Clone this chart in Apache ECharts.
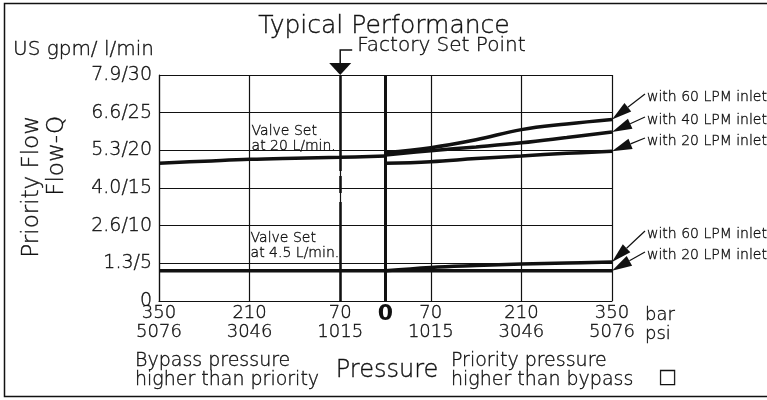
<!DOCTYPE html>
<html>
<head>
<meta charset="utf-8">
<title>Typical Performance</title>
<script src="https://cdn.jsdelivr.net/npm/echarts@6/dist/echarts.min.js"></script>
<style>
html, body { margin: 0; padding: 0; background: #fff; }
#main { width: 767px; height: 400px; }
</style>
</head>
<body>
<div id="main"></div>
<script>
// pressure axis runs 0..700: left half is bypass (350 - bar), right half is priority (350 + bar)
var bypassBar = [350, 280, 210, 140, 70, 0];
var upperBypass = [18.3, 18.55, 18.8, 18.95, 19.07, 19.25];
var lowerBypass = [4.0, 4.0, 4.0, 4.02, 4.03, 4.03];

var priorityBar = [0, 70, 140, 210, 280, 350];
var upper60 = [19.7, 20.35, 21.4, 22.75, 23.5, 24.1];
var upper40 = [19.38, 19.95, 20.45, 21.0, 21.7, 22.43];
var upper20 = [18.28, 18.5, 18.9, 19.25, 19.6, 19.87];
var lower60 = [4.0, 4.45, 4.7, 4.9, 5.05, 5.18];
var lower20 = [4.02, 4.02, 4.02, 4.02, 4.02, 4.02];

var yTickLabels = ['0', '1.3/5', '2.6/10', '4.0/15', '5.3/20', '6.6/25', '7.9/30'];
var barTicks = [350, 210, 70, 70, 210, 350];
var psiTicks = [5076, 3046, 1015, 1015, 3046, 5076];

var setPointBar = 70; // factory set point, bypass side
var inletLabels = ['with 60 LPM inlet', 'with 40 LPM inlet', 'with 20 LPM inlet', 'with 60 LPM inlet', 'with 20 LPM inlet'];

var font = '"DejaVu Sans", sans-serif';
var ink = '#111';
var thin = 0.35; // a touch of outline so the light face reads a bit darker

function side(bars, vals, sign) {
    var out = [];
    for (var i = 0; i < bars.length; i++) {
        out.push([350 + sign * bars[i], vals[i]]);
    }
    return out;
}

function curve(data) {
    return {
        type: 'line',
        data: data,
        smooth: 0.4,
        symbol: 'none',
        silent: true,
        z: 5,
        lineStyle: { color: ink, width: 3.5 }
    };
}

var setX = 350 - setPointBar;

var first = curve(side(bypassBar, upperBypass, -1));
first.markLine = {
    silent: true,
    symbol: 'none',
    label: { show: false },
    data: [
        [{ coord: [setX, 0] }, { coord: [setX, 30], lineStyle: { color: ink, width: 2.5, type: [99, 9, 17, 5, 400] } }],
        [{ coord: [350, 0] }, { coord: [350, 30], lineStyle: { color: ink, width: 3, type: 'solid' } }]
    ]
};

var series = [
    first,
    curve(side(bypassBar, lowerBypass, -1)),
    curve(side(priorityBar, upper60, 1)),
    curve(side(priorityBar, upper40, 1)),
    curve(side(priorityBar, upper20, 1)),
    curve(side(priorityBar, lower60, 1)),
    curve(side(priorityBar, lower20, 1))
];

var chart = echarts.init(document.getElementById('main'));
chart.setOption({
    animation: false,
    backgroundColor: '#fff',
    grid: { left: 159, right: 155, top: 75, bottom: 99 },
    xAxis: {
        type: 'value',
        min: 0,
        max: 700,
        interval: 140,
        axisLine: { show: true, lineStyle: { color: ink, width: 1.2 } },
        axisTick: { show: false },
        splitLine: { show: true, lineStyle: { color: ink, width: 1.2 } },
        axisLabel: {
            margin: 3,
            interval: 0,
            fontFamily: font,
            fontWeight: 200,
            fontSize: 18,
            lineHeight: 19,
            color: ink,
            textBorderColor: ink,
            textBorderWidth: thin,
            formatter: function (v) {
                var i = Math.round(v / 140);
                return barTicks[i] + '\n' + psiTicks[i];
            }
        }
    },
    yAxis: {
        type: 'value',
        min: 0,
        max: 30,
        interval: 5,
        axisLine: { show: true, lineStyle: { color: ink, width: 1.2 } },
        axisTick: { show: false },
        splitLine: { show: true, lineStyle: { color: ink, width: 1.2 } },
        axisLabel: {
            margin: 7,
            fontFamily: font,
            fontWeight: 200,
            fontSize: 19,
            color: ink,
            textBorderColor: ink,
            textBorderWidth: thin,
            formatter: function (v) {
                return yTickLabels[Math.round(v / 5)];
            }
        }
    },
    series: series
});

// annotations placed through the chart's own scales
function px(x, y) {
    return chart.convertToPixel({ xAxisIndex: 0, yAxisIndex: 0 }, [x, y]);
}

function txt(x, y, s, size, extra) {
    var st = { text: s, fill: ink, stroke: ink, lineWidth: thin, font: '200 ' + size + 'px ' + font, align: 'left', verticalAlign: 'middle' };
    for (var k in extra) st[k] = extra[k];
    return { type: 'text', x: x, y: y, style: st, z: 20 };
}

var g = [];
g.push({ type: 'rect', shape: { x: 4.5, y: 3.5, width: 900, height: 393 }, style: { fill: null, stroke: ink, lineWidth: 1.5 }, z: 1 });
g.push(txt(384, 26, 'Typical Performance', 25, { align: 'center' }));
g.push(txt(13, 50, 'US gpm/ l/min', 20));

// factory set point marker
var sp = px(setX, 30);
g.push({ type: 'polygon', shape: { points: [[sp[0] - 11, sp[1] - 12], [sp[0] + 11, sp[1] - 12], [sp[0], sp[1]]] }, style: { fill: ink }, z: 20 });
g.push({ type: 'polyline', shape: { points: [[sp[0], sp[1] - 12], [sp[0], sp[1] - 25], [sp[0] + 12, sp[1] - 25]] }, style: { stroke: ink, lineWidth: 1.5, fill: null }, z: 20 });
g.push(txt(sp[0] + 17, sp[1] - 29, 'Factory Set Point', 20));

// y axis title
g.push(txt(20, 116, 'Priority Flow\nFlow-Q', 23, { align: 'right', verticalAlign: 'top', lineHeight: 25 }));
g[g.length - 1].rotation = Math.PI / 2;

// bold zero under the centre line
var z0 = px(350, 0);
g.push(txt(z0[0], z0[1] + 13, '0', 22, { align: 'center', font: 'bold 22px ' + font, lineWidth: 0 }));
var xe = px(700, 0);
g.push(txt(xe[0] + 33, xe[1] + 5, 'bar\npsi', 18, { lineHeight: 19, verticalAlign: 'top' }));

// valve set notes
var vs = px(140, 20);
g.push(txt(vs[0] + 2, vs[1] - 26, 'Valve Set\nat 20 L/min.', 14, { lineHeight: 15, verticalAlign: 'top' }));
var vs2 = px(140, 5);
g.push(txt(vs2[0] + 1, vs2[1] - 32, 'Valve Set\nat 4.5 L/min.', 14, { lineHeight: 15, verticalAlign: 'top' }));

// bottom captions
g.push(txt(135, 352, 'Bypass pressure\nhigher than priority', 19, { lineHeight: 19, verticalAlign: 'top' }));
g.push(txt(387, 371, 'Pressure', 24, { align: 'center' }));
g.push(txt(451, 352, 'Priority pressure\nhigher than bypass', 19, { lineHeight: 19, verticalAlign: 'top' }));
g.push(txt(660, 378, '\u25a1', 25));

// inlet arrows to curve ends
var tipVals = [upper60[5], upper40[5], upper20[5], lower60[5], lower20[5]];
var labelY = [97, 120, 141, 234, 255];
for (var i = 0; i < tipVals.length; i++) {
    var tip = px(700, tipVals[i]);
    var sx = 645, sy = labelY[i] - 3;
    var dx = tip[0] - sx, dy = tip[1] - sy;
    var len = Math.sqrt(dx * dx + dy * dy);
    var ux = dx / len, uy = dy / len;
    var bx = tip[0] - ux * 20, by = tip[1] - uy * 20;
    g.push({ type: 'line', shape: { x1: sx, y1: sy, x2: bx, y2: by }, style: { stroke: ink, lineWidth: 1.2 }, z: 20 });
    g.push({ type: 'polygon', shape: { points: [[tip[0], tip[1]], [bx - uy * 5.5, by + ux * 5.5], [bx + uy * 5.5, by - ux * 5.5]] }, style: { fill: ink }, z: 20 });
    g.push(txt(647, labelY[i], inletLabels[i], 14));
}

chart.setOption({ graphic: g });
</script>
</body>
</html>
